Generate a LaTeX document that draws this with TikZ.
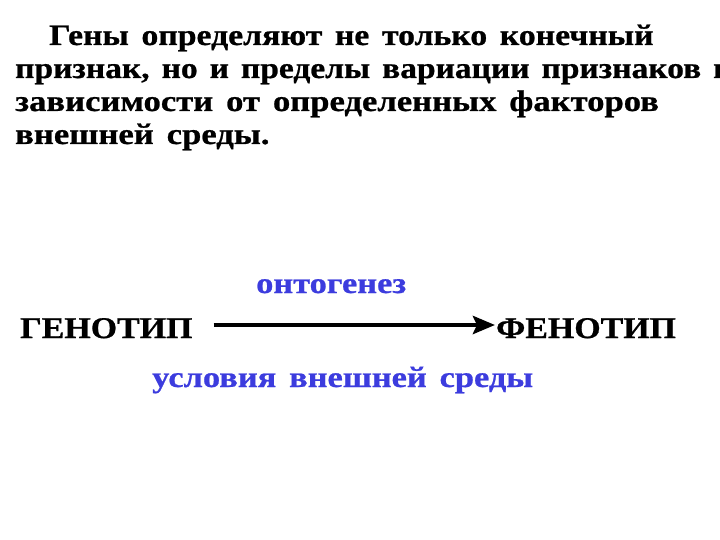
\documentclass[tikz,border=0pt]{standalone}
\usepackage{fontspec}
\usetikzlibrary{arrows.meta}
\newfontfamily\ttlfont[FakeStretch=1.17,WordSpace=1.5,BoldFeatures={FakeBold=0.8}]{Liberation Serif}
\newfontfamily\ttlnarrow[FakeStretch=1.14,WordSpace=1.5,BoldFeatures={FakeBold=0.8}]{Liberation Serif}
\newfontfamily\ttlnarrower[FakeStretch=1.132,BoldFeatures={FakeBold=0.8}]{Liberation Serif}
\newfontfamily\bigfont[FakeStretch=1.13,BoldFeatures={FakeBold=0.8}]{Liberation Serif}
\definecolor{txtblue}{RGB}{60,60,222}
\tikzset{
  ttl/.style={anchor=base west, inner sep=0pt, font=\ttlfont\bfseries\fontsize{29.6}{33}\selectfont},
  ttln/.style={anchor=base west, inner sep=0pt, font=\ttlnarrow\bfseries\fontsize{29.6}{33}\selectfont},
  ttlm/.style={anchor=base west, inner sep=0pt, font=\ttlnarrower\bfseries\fontsize{29.6}{33}\selectfont},
  big/.style={anchor=base west, inner sep=0pt, font=\bigfont\bfseries\fontsize{30}{36}\selectfont},
  blu/.style={anchor=base west, inner sep=0pt, text=txtblue, font=\ttlfont\bfseries\fontsize{29.4}{33}\selectfont},
  bigarrow/.style={line width=4.5pt, -{Stealth[length=22pt,width=18pt,inset=4pt]}}
}
\begin{document}
\begin{tikzpicture}[x=1pt,y=-1pt]
\useasboundingbox (0,0) rectangle (720,540);
\fill[white] (0,0) rectangle (720,540);
\clip (0,0) rectangle (720,540);
\node[ttln] (t1) at (49,45) {Гены определяют не только конечный};
\node[ttlm] (t2) at (15,78) {\spaceskip=12pt\relax признак, но и пределы вариации признаков в};
\node[ttl] (t3) at (15,111) {зависимости от определенных факторов};
\node[ttl] (t4) at (15,144) {внешней среды.};
\node[big] (geno) at (20,338) {ГЕНОТИП};
\node[big] (pheno) at (496,338) {ФЕНОТИП};
\node[blu] (onto) at (256,293) {онтогенез};
\node[blu] (env) at (152,387) {условия внешней среды};
\draw[bigarrow] ([xshift=21pt,yshift=13pt]geno.base east) -- ([xshift=-1pt,yshift=13pt]pheno.base west);
\end{tikzpicture}
\end{document}
